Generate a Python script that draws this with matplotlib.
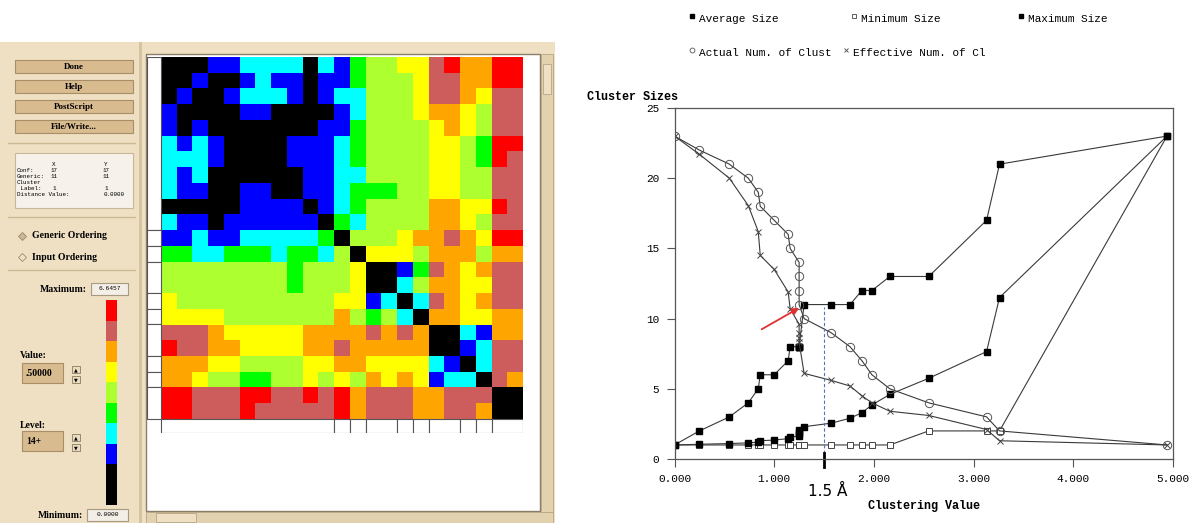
import numpy as np
import matplotlib.pyplot as plt
from matplotlib.colors import ListedColormap
from matplotlib.patches import Rectangle

W, H = 1190, 523

# ---- left panel: distance matrix, level code per cell (0 = black ... 8 = red)
dist_levels = [
    "00011222202134455786688",
    "00100121101134445776688",
    "01001222101224445776577",
    "10000110000124445665477",
    "10100000001134444565477",
    "21210000111234444554388",
    "22210000111234444554387",
    "21200000011224444554477",
    "21100110011233344554477",
    "00000111101234444665587",
    "21101111110324444665477",
    "11211222223044456676588",
    "33223332332405554666466",
    "44444444344450013765677",
    "44444444344450024665577",
    "54444444444551202765677",
    "55554444444643420665566",
    "77765555566667676002166",
    "87766555566766666001277",
    "66655444455665555210277",
    "66544334454546565122076",
    "88777887787867776677700",
    "88777877777867776677600",
]
level_colors = ["#000000", "#0000ff", "#00ffff", "#00ff00", "#adff2f",
                "#ffff00", "#ffa500", "#cd5c5c", "#ff0000"]
cluster_bounds = [0, 11, 12, 13, 15, 16, 17, 19, 20, 21, 23]
colorbar_levels = [8, 7, 6, 5, 4, 3, 2, 1, 0, 0]
buttons = ["Done", "Help", "PostScript", "File/Write..."]

# ---- right panel: cluster statistics vs clustering value
clust_value = [0.0, 0.25, 0.55, 0.74, 0.84, 0.86, 1.0, 1.14, 1.16, 1.25, 1.25, 1.25,
               1.25, 1.30, 1.57, 1.76, 1.88, 1.98, 2.16, 2.55, 3.13, 3.26, 4.94]
avg_size = [1.0, 1.05, 1.1, 1.15, 1.2, 1.3, 1.35, 1.45, 1.55, 1.65, 1.75, 1.9,
            2.1, 2.3, 2.55, 2.9, 3.3, 3.85, 4.6, 5.75, 7.65, 11.5, 23.0]
min_size = [1, 1, 1, 1, 1, 1, 1, 1, 1, 1, 1, 1, 1, 1, 1, 1, 1, 1, 1, 2, 2, 2, 23]
max_size = [1, 2, 3, 4, 5, 6, 6, 7, 8, 8, 8, 8, 8, 11, 11, 11, 12, 12, 13, 13, 17, 21, 23]
actual_num = [23, 22, 21, 20, 19, 18, 17, 16, 15, 14, 13, 12, 11, 10, 9, 8, 7, 6, 5, 4, 3, 2, 1]
effective_num = [23.0, 21.7, 20.0, 18.05, 16.2, 14.5, 13.5, 11.9, 10.7, 9.6, 9.0, 8.6,
                 8.3, 6.1, 5.6, 5.2, 4.5, 4.0, 3.4, 3.1, 2.1, 1.3, 1.0]
x_ticks = [0, 1, 2, 3, 4, 5]
y_ticks = [0, 5, 10, 15, 20, 25]
cut_value = 1.5

plt.rcParams['font.family'] = ['Liberation Mono', 'DejaVu Sans Mono']
SERIF = ['Liberation Serif', 'DejaVu Serif']
BEIGE = "#efe0c4"
TAN = "#d9bb90"

fig = plt.figure(figsize=(W / 100, H / 100), dpi=100)


def fax(x0, y0, x1, y1):
    # axes placed in pixel coordinates (top-left origin)
    return fig.add_axes([x0 / W, 1 - y1 / H, (x1 - x0) / W, (y1 - y0) / H])


bg = fig.add_axes([0, 0, 1, 1])
bg.set_xlim(0, W)
bg.set_ylim(H, 0)
bg.axis("off")

# GUI window
bg.add_patch(Rectangle((0, 42), 555, 481, fc=BEIGE, ec="none"))
bg.add_patch(Rectangle((139, 42), 3, 481, fc="#d6c4a0", ec="none"))
for i, name in enumerate(buttons):
    y = 60 + 20 * i
    bg.add_patch(Rectangle((15, y), 118, 13, fc=TAN, ec="#a88e68", lw=0.8))
    bg.text(74, y + 6.8, name, ha="center", va="center", fontsize=6.5,
            fontweight="bold", family=SERIF)
for y in [143, 217, 270]:
    bg.plot([8, 135], [y, y], color="#cdb994", lw=1)

# info box
bg.add_patch(Rectangle((15, 153), 118, 55, fc="#f6f2eb", ec="#c8b89a", lw=0.8))
info_rows = [("", "X", "Y"), ("Conf:", "17", "17"), ("Generic:", "11", "11"),
             ("Cluster", "", ""), (" Label:", "1", "1"), ("Distance Value:", "", "0.0000")]
for k, (a, b, c) in enumerate(info_rows):
    yy = 165 + 6 * k
    bg.text(17, yy, a, fontsize=4.2, va="center")
    bg.text(54, yy, b, fontsize=4.2, va="center", ha="center")
    bg.text(106 if c != "0.0000" else 114, yy, c, fontsize=4.2, va="center", ha="center")

# radio buttons
bg.plot(22, 236, marker="D", ms=4.5, mfc="#cbb897", mec="#9c8a6c", mew=0.6)
bg.plot(22, 257, marker="D", ms=4.5, mfc=BEIGE, mec="#9c8a6c", mew=0.6)
bg.text(32, 236, "Generic Ordering", fontsize=7, fontweight="bold", va="center", family=SERIF)
bg.text(32, 257, "Input Ordering", fontsize=7, fontweight="bold", va="center", family=SERIF)

# level scale
bg.text(87, 289, "Maximum:", fontsize=7, fontweight="bold", ha="right", va="center", family=SERIF)
bg.add_patch(Rectangle((91, 283), 37, 12, fc="#f3eee6", ec="#a89a80", lw=0.8))
bg.text(109.5, 289, "6.6457", fontsize=4.5, ha="center", va="center")
for k, lev in enumerate(colorbar_levels):
    bg.add_patch(Rectangle((106, 300 + 20.5 * k), 11, 20.5, fc=level_colors[lev], ec="none"))
bg.text(20, 356, "Value:", fontsize=7, fontweight="bold", va="center", family=SERIF)
bg.add_patch(Rectangle((22, 363), 41, 20, fc=TAN, ec="#a88e68", lw=0.8))
bg.text(26, 373, ".50000", fontsize=7, fontweight="bold", va="center", family=SERIF)
bg.text(20, 425, "Level:", fontsize=7, fontweight="bold", va="center", family=SERIF)
bg.add_patch(Rectangle((22, 431), 41, 20, fc=TAN, ec="#a88e68", lw=0.8))
bg.text(26, 441, "14+", fontsize=7, fontweight="bold", va="center", family=SERIF)
for ys in [366, 376, 434, 444]:
    bg.add_patch(Rectangle((72, ys), 8, 7, fc="#eadcc0", ec="#8a7a60", lw=0.6))
    bg.text(76, ys + 3.8, "\u25b2" if ys in (366, 434) else "\u25bc", fontsize=3.5,
            ha="center", va="center", family="DejaVu Sans")
bg.text(83, 515, "Minimum:", fontsize=7, fontweight="bold", ha="right", va="center", family=SERIF)
bg.add_patch(Rectangle((87, 509), 41, 12, fc="#f3eee6", ec="#a89a80", lw=0.8))
bg.text(107.5, 515, "0.0000", fontsize=4.5, ha="center", va="center")

# canvas and scrollbars
bg.add_patch(Rectangle((146, 54), 394, 457, fc="white", ec="#8a7e6a", lw=1))
bg.add_patch(Rectangle((541, 54), 12, 458, fc="#e3d2b0", ec="#b8a583", lw=0.6))
bg.add_patch(Rectangle((543, 64), 8, 30, fc=BEIGE, ec="#b8a583", lw=0.6))
bg.add_patch(Rectangle((146, 512), 407, 11, fc="#e3d2b0", ec="#b8a583", lw=0.6))
bg.add_patch(Rectangle((156, 513), 40, 9, fc=BEIGE, ec="#b8a583", lw=0.6))

# distance matrix
mat = np.array([[int(ch) for ch in row] for row in dist_levels])
mx = fax(147, 57, 523, 433)
mx.imshow(mat, cmap=ListedColormap(level_colors), vmin=-0.5, vmax=8.5,
          extent=(0, 23, 23, 0), interpolation="nearest", aspect="auto")
for b0, b1 in zip(cluster_bounds[:-1], cluster_bounds[1:]):
    mx.add_patch(Rectangle((-0.9, b0), 0.9, b1 - b0, fc="white", ec="#555555", lw=0.8))
    mx.add_patch(Rectangle((b0, 23), b1 - b0, 0.9, fc="white", ec="#555555", lw=0.8))
mx.set_xlim(-0.9, 23)
mx.set_ylim(23.9, 0)
mx.axis("off")

# cluster size chart
ax = fax(674.5, 108, 1173, 459)
line_kw = dict(color="#3a3a3a", lw=0.8)
ax.plot(clust_value, min_size, marker="s", ms=5, mfc="white", mec="#444444", mew=0.7, **line_kw)
ax.plot(clust_value, avg_size, marker="s", ms=5, mfc="black", mec="black", **line_kw)
ax.plot(clust_value, max_size, marker="s", ms=3.8, mfc="black", mec="black", **line_kw)
ax.plot(clust_value, actual_num, marker="o", ms=6, mfc="none", mec="#555555", mew=0.7, **line_kw)
ax.plot(clust_value, effective_num, marker="x", ms=4.5, mec="#444444", mew=0.7, **line_kw)

ax.plot([cut_value, cut_value], [0, 10.85], ls=(0, (3, 2)), color="#4a78c0", lw=0.8)
ax.plot([cut_value, cut_value], [-0.6, 0.4], color="black", lw=2, clip_on=False)
ax.annotate("", xy=(1.275, 10.86), xytext=(0.85, 9.14),
            arrowprops=dict(arrowstyle="-|>", color="#e03030", lw=1.3, mutation_scale=10))

ax.set_xlim(0, 5)
ax.set_ylim(0, 25)
ax.set_xticks(x_ticks)
ax.set_xticklabels([f"{v:.3f}" for v in x_ticks])
ax.set_yticks(y_ticks)
ax.tick_params(direction="out", length=6, width=0.8, color="#555555", labelsize=8, pad=5)
for s in ax.spines.values():
    s.set_color("#555555")
    s.set_linewidth(0.9)

fig.text(587 / W, 1 - 97 / H, "Cluster Sizes", fontsize=8.5, fontweight="bold", va="center")
fig.text(924 / W, 1 - 506 / H, "Clustering Value", fontsize=8.5, fontweight="bold",
         ha="center", va="center")
fig.text(828 / W, 1 - 491 / H, "1.5 \u00c5", fontsize=11, ha="center", va="center",
         family="DejaVu Sans")

# legend, two rows above the chart
legend_items = [
    ("Average Size", dict(marker="s", ms=3, mfc="black", mec="black"), 692, 16),
    ("Minimum Size", dict(marker="s", ms=3.5, mfc="white", mec="#444444", mew=0.6), 854, 16),
    ("Maximum Size", dict(marker="s", ms=2.5, mfc="black", mec="black"), 1021, 16),
    ("Actual Num. of Clust", dict(marker="o", ms=3.5, mfc="none", mec="#555555", mew=0.6), 692, 50),
    ("Effective Num. of Cl", dict(marker="x", ms=3, mec="#444444", mew=0.6), 846, 50),
]
for label, mk, lx, ly in legend_items:
    bg.plot(lx, ly, ls="none", **mk)
    bg.text(lx + 7, ly + 3, label, fontsize=8, va="center")

fig.savefig("out.png", dpi=100)
